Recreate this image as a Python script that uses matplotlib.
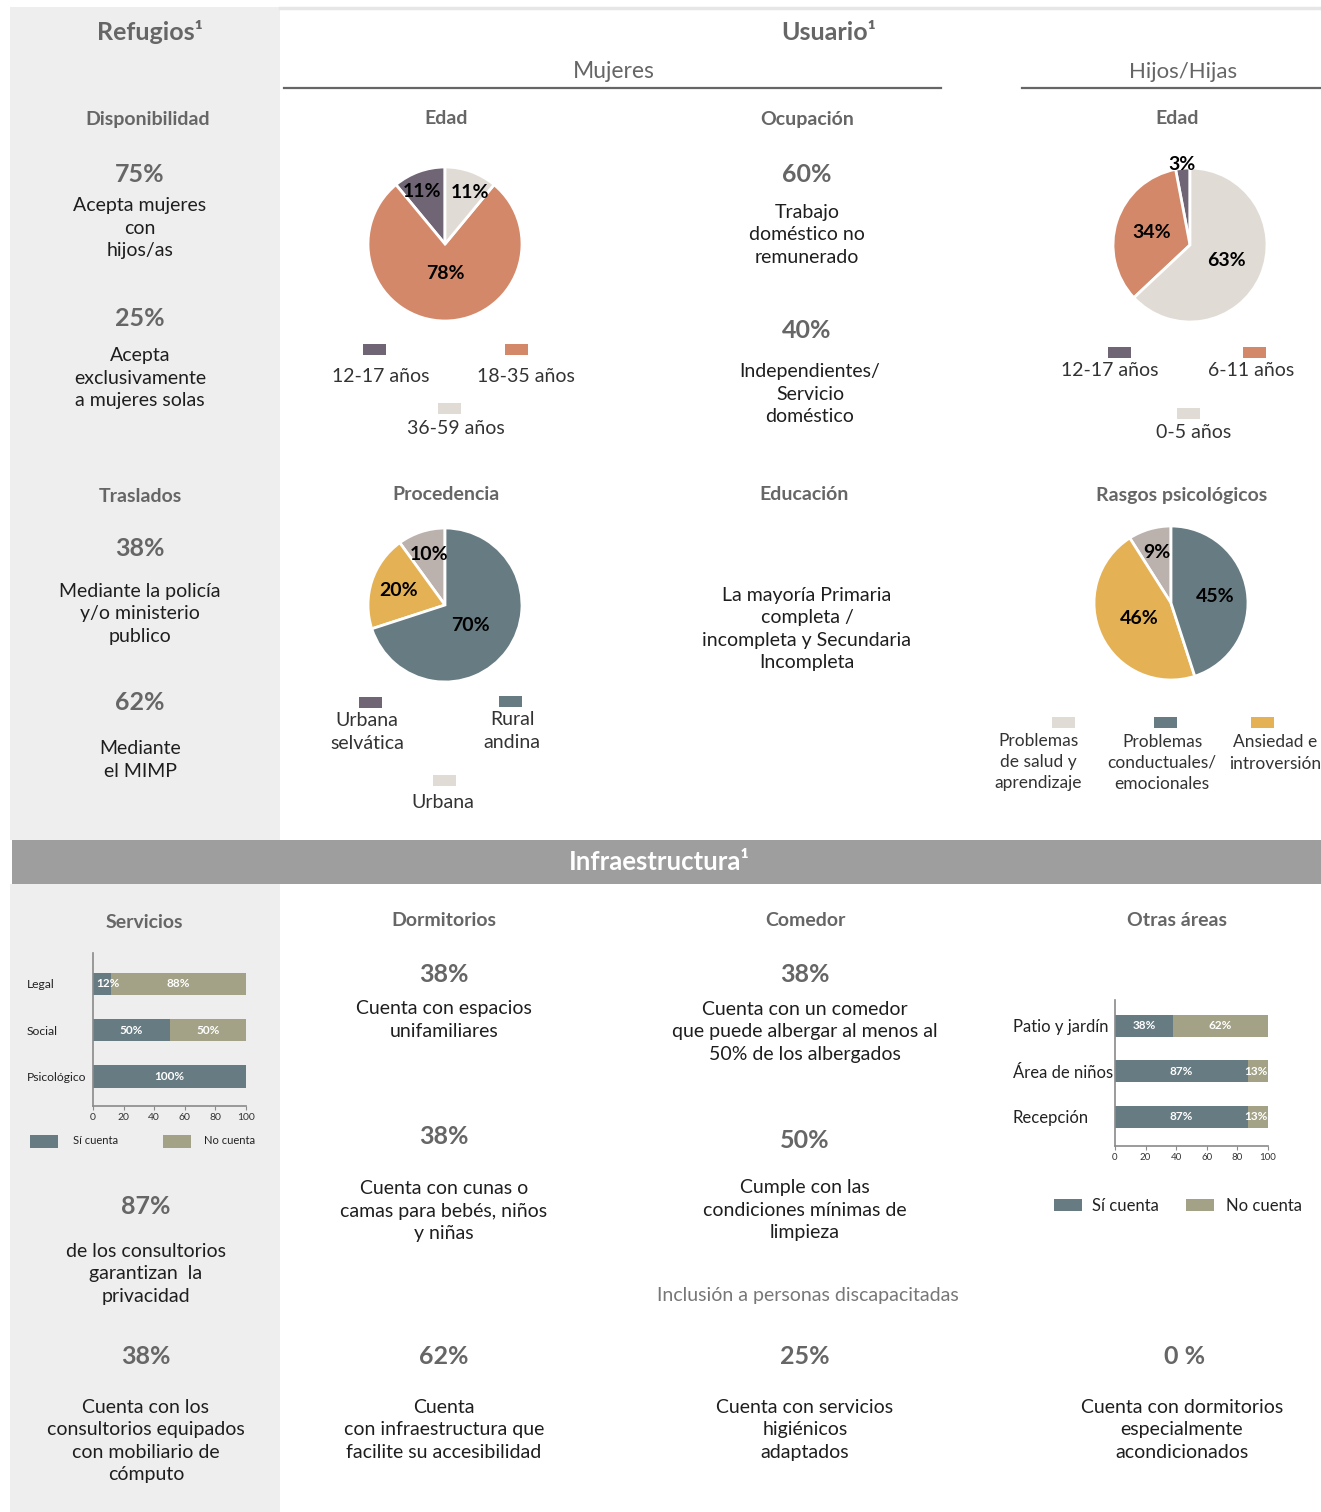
import numpy as np
import matplotlib
matplotlib.use('Agg')
import matplotlib.pyplot as plt
from matplotlib.patches import Rectangle

plt.rcParams['font.family'] = ['Lato', 'DejaVu Sans']

W, H = 1321, 1512

# colours
PURPLE = '#6f6574'
ORANGE = '#d4886a'
LIGHT = '#e0dbd5'
SLATE = '#677b82'
YELLOW = '#e4b155'
TAUPE = '#bcb2ad'
OLIVE = '#a3a287'
HEAD = '#666666'
BODY = '#1e1e1e'

# pies (slices counter-clockwise from 12 o'clock)
edad_mujeres = [11, 78, 11]
edad_mujeres_colors = [PURPLE, ORANGE, LIGHT]
edad_mujeres_legend = ['12-17 años', '18-35 años', '36-59 años']

edad_hijos = [3, 34, 63]
edad_hijos_colors = [PURPLE, ORANGE, LIGHT]
edad_hijos_legend = ['12-17 años', '6-11 años', '0-5 años']

procedencia = [10, 20, 70]
procedencia_colors = [TAUPE, YELLOW, SLATE]
procedencia_legend = ['Urbana\nselvática', 'Rural\nandina', 'Urbana']
procedencia_legend_colors = [PURPLE, SLATE, LIGHT]

rasgos = [9, 46, 45]
rasgos_colors = [TAUPE, YELLOW, SLATE]
rasgos_legend = ['Problemas\nde salud y\naprendizaje', 'Problemas\nconductuales/\nemocionales',
                 'Ansiedad e\nintroversión']
rasgos_legend_colors = [LIGHT, SLATE, YELLOW]

# stacked bars
servicios_cats = ['Legal', 'Social', 'Psicológico']
servicios_si = [12, 50, 100]
servicios_no = [88, 50, 0]

otras_cats = ['Patio y jardín', 'Área de niños', 'Recepción']
otras_si = [38, 87, 87]
otras_no = [62, 13, 13]
bar_ticks = [0, 20, 40, 60, 80, 100]

fig = plt.figure(figsize=(W / 100, H / 100), dpi=100)
bg = fig.add_axes([0, 0, 1, 1])
bg.set_xlim(0, W)
bg.set_ylim(H, 0)
bg.axis('off')


def px_axes(x0, y0, x1, y1):
    return fig.add_axes([x0 / W, 1 - y1 / H, (x1 - x0) / W, (y1 - y0) / H])


def txt(x, y, s, size=14, color=BODY, weight='normal', **kw):
    bg.text(x, y, s, fontsize=size, color=color, fontweight=weight,
            ha=kw.pop('ha', 'center'), va=kw.pop('va', 'center'),
            linespacing=kw.pop('linespacing', 1.37), **kw)


def head(x, y, s):
    txt(x, y, s, size=14, color=HEAD, weight='bold')


def big(x, y, s):
    txt(x, y, s, size=18, color=HEAD, weight='bold')


def swatch(x, y, color, w=23, h=11):
    bg.add_patch(Rectangle((x - w / 2, y - h / 2), w, h, color=color, lw=0))


# backgrounds
bg.add_patch(Rectangle((10, 7), 270, 833, color='#eeeeee', lw=0))
bg.add_patch(Rectangle((10, 884), 270, 628, color='#eeeeee', lw=0))
bg.add_patch(Rectangle((12, 840), W - 12, 44, color='#9d9e9d', lw=0))
bg.plot([280, W], [8, 8], color='#e6e6e6', lw=2.5)
bg.plot([284, 941], [88, 88], color=HEAD, lw=1.6)
bg.plot([1022, W], [88, 88], color=HEAD, lw=1.6)

# top headers
txt(150, 32, 'Refugios¹', size=18, color=HEAD, weight='bold')
txt(829, 32, 'Usuario¹', size=18, color=HEAD, weight='bold')
txt(614, 71, 'Mujeres', size=16.5, color=HEAD)
txt(1183, 72, 'Hijos/Hijas', size=16, color=HEAD)
txt(659, 862, 'Infraestructura¹', size=18.5, color='white', weight='bold')

# section headings
for x, y, s in [(148, 119, 'Disponibilidad'), (446, 119, 'Edad'), (807, 119, 'Ocupación'),
                (1177, 118, 'Edad'), (140, 496, 'Traslados'), (446, 495, 'Procedencia'),
                (804, 495, 'Educación'), (1182, 495, 'Rasgos psicológicos'),
                (144, 922, 'Servicios'), (444, 921, 'Dormitorios'), (805, 921, 'Comedor'),
                (1177, 921, 'Otras áreas')]:
    head(x, y, s)

# key figures
for x, y, s in [(140, 174, '75%'), (140, 318, '25%'), (807, 174, '60%'), (807, 330, '40%'),
                (140, 549, '38%'), (140, 703, '62%'), (444, 974, '38%'), (805, 974, '38%'),
                (444, 1136, '38%'), (805, 1140, '50%'), (146, 1207, '87%'), (146, 1357, '38%'),
                (444, 1357, '62%'), (805, 1357, '25%'), (1185, 1357, '0 %')]:
    big(x, y, s)

# body texts
for x, y, s in [(140, 228, 'Acepta mujeres\ncon\nhijos/as'),
                (140, 378, 'Acepta\nexclusivamente\na mujeres solas'),
                (807, 235, 'Trabajo\ndoméstico no\nremunerado'),
                (810, 394, 'Independientes/\nServicio\ndoméstico'),
                (140, 614, 'Mediante la policía\ny/o ministerio\npublico'),
                (140, 760, 'Mediante\nel MIMP'),
                (807, 629, 'La mayoría Primaria\ncompleta /\nincompleta y Secundaria\nIncompleta'),
                (444, 1020, 'Cuenta con espacios\nunifamiliares'),
                (805, 1032, 'Cuenta con un comedor\nque puede albergar al menos al\n50% de los albergados'),
                (444, 1211, 'Cuenta con cunas o\ncamas para bebés, niños\ny niñas'),
                (805, 1210, 'Cumple con las\ncondiciones mínimas de\nlimpieza'),
                (146, 1274, 'de los consultorios\ngarantizan  la\nprivacidad'),
                (146, 1441, 'Cuenta con los\nconsultorios equipados\ncon mobiliario de\ncómputo'),
                (444, 1430, 'Cuenta\ncon infraestructura que\nfacilite su accesibilidad'),
                (805, 1430, 'Cuenta con servicios\nhigiénicos\nadaptados'),
                (1182, 1430, 'Cuenta con dormitorios\nespecialmente\nacondicionados')]:
    txt(x, y, s)
txt(808, 1295, 'Inclusión a personas discapacitadas', size=14, color='#777777')


def draw_pie(cx, cy, r, vals, colors, dists, shifts=None):
    ax = px_axes(cx - r, cy - r, cx + r, cy + r)
    wedges, _ = ax.pie(vals, colors=colors, startangle=90, counterclock=True,
                       wedgeprops=dict(edgecolor='white', linewidth=2))
    ax.set_xlim(-1, 1)
    ax.set_ylim(-1, 1)
    ax.set_aspect('equal')
    ax.axis('off')
    if shifts is None:
        shifts = [0] * len(vals)
    for w, v, d, sh in zip(wedges, vals, dists, shifts):
        a = np.deg2rad((w.theta1 + w.theta2) / 2 + sh)
        ax.text(d * np.cos(a), d * np.sin(a), f'{v}%', ha='center', va='center',
                fontsize=14, fontweight='bold', color='black')


draw_pie(445, 244, 77, edad_mujeres, edad_mujeres_colors, [0.74, 0.38, 0.75], [4, 0, -6])
draw_pie(1190, 245, 77, edad_hijos, edad_hijos_colors, [1.05, 0.52, 0.51])
draw_pie(445, 605, 77, procedencia, procedencia_colors, [0.69, 0.63, 0.42], [0, 0, -3])
draw_pie(1171, 603, 77, rasgos, rasgos_colors, [0.68, 0.46, 0.58])

# pie legends
for (sx, sy, tx, ty), lab, c in zip([(374, 349, 381, 376), (516, 349, 526, 376), (449, 408, 456, 429)],
                                    edad_mujeres_legend, edad_mujeres_colors):
    swatch(sx, sy, c)
    txt(tx, ty, lab, color='#333333')
for (sx, sy, tx, ty), lab, c in zip([(1119, 352, 1110, 370), (1254, 352, 1251, 370), (1188, 413, 1194, 432)],
                                    edad_hijos_legend, edad_hijos_colors):
    swatch(sx, sy, c)
    txt(tx, ty, lab, color='#333333')
for (sx, sy, tx, ty), lab, c in zip([(370, 702, 367, 732), (510, 701, 512, 731), (444, 780, 443, 802)],
                                    procedencia_legend, procedencia_legend_colors):
    swatch(sx, sy, c)
    txt(tx, ty, lab, color='#333333')
for (sx, sy, tx, ty), lab, c in zip([(1063, 722, 1038, 762), (1165, 722, 1162, 763), (1262, 722, 1275, 753)],
                                    rasgos_legend, rasgos_legend_colors):
    swatch(sx, sy, c)
    txt(tx, ty, lab, size=12.5, color='#333333', linespacing=1.4)


def draw_bars(x0, x1, y0, y1, cats, si, no, top_m, bot_m, pad_px, cat_fs, val_fs, tick_fs):
    ax = px_axes(x0, y0, x1, y1)
    y = np.arange(len(cats))
    ax.barh(y, si, height=0.48, color=SLATE)
    ax.barh(y, no, left=si, height=0.48, color=OLIVE)
    for yi, a, b in zip(y, si, no):
        for left, v in [(0, a), (a, b)]:
            if v <= 0:
                continue
            if v >= 15:
                xt, ha = left + v / 2, 'center'
            elif left == 0:
                xt, ha = 2, 'left'
            else:
                xt, ha = left + v, 'right'
            ax.text(xt, yi, f'{v}%', ha=ha, va='center',
                    color='white', fontsize=val_fs, fontweight='bold')
    ax.set_xlim(0, 100)
    ax.set_ylim(len(cats) - 1 + bot_m, -top_m)
    ax.set_facecolor('none')
    for s in ['top', 'right']:
        ax.spines[s].set_visible(False)
    for s in ['left', 'bottom']:
        ax.spines[s].set_color('#8a8a8a')
        ax.spines[s].set_linewidth(1.2)
    ax.set_xticks(bar_ticks)
    ax.tick_params(axis='x', length=3, width=0.8, color='#8a8a8a', labelsize=tick_fs,
                   labelcolor='#333333', pad=2)
    ax.set_yticks(y)
    ax.set_yticklabels(cats, fontsize=cat_fs, color='#222222')
    ax.tick_params(axis='y', length=0, pad=pad_px * 0.72)
    for lab in ax.get_yticklabels():
        lab.set_horizontalalignment('left')


draw_bars(93, 246, 953, 1106, servicios_cats, servicios_si, servicios_no, 0.67, 0.64, 66, 8.7, 8.5, 7.5)
draw_bars(1115, 1268, 1000, 1146, otras_cats, otras_si, otras_no, 0.57, 0.64, 102, 12, 8.5, 7)

# bar legends
swatch(44, 1141, SLATE, w=28, h=13)
txt(73, 1141, 'Sí cuenta', size=8, color='#222222', ha='left')
swatch(177, 1141, OLIVE, w=28, h=13)
txt(204, 1141, 'No cuenta', size=8, color='#222222', ha='left')
swatch(1068, 1205, SLATE, w=28, h=12)
txt(1092, 1206, 'Sí cuenta', size=12, color='#222222', ha='left')
swatch(1200, 1205, OLIVE, w=28, h=12)
txt(1226, 1206, 'No cuenta', size=12, color='#222222', ha='left')

fig.savefig('out.png', dpi=100)
